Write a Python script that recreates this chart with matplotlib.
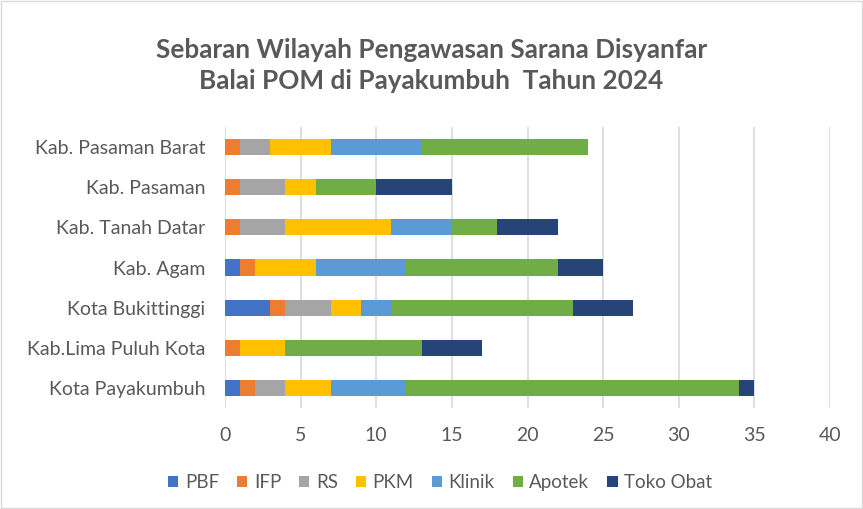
import matplotlib
matplotlib.use("Agg")
import matplotlib.pyplot as plt
from matplotlib.patches import Rectangle
import numpy as np

plt.rcParams['font.family'] = ['Lato', 'DejaVu Sans']

categories = ["Kota Payakumbuh", "Kab.Lima Puluh Kota", "Kota Bukittinggi", "Kab. Agam",
              "Kab. Tanah Datar", "Kab. Pasaman", "Kab. Pasaman Barat"]
series_names = ["PBF", "IFP", "RS", "PKM", "Klinik", "Apotek", "Toko Obat"]
PBF = [1, 0, 3, 1, 0, 0, 0]
IFP = [1, 1, 1, 1, 1, 1, 1]
RS = [2, 0, 3, 0, 3, 3, 2]
PKM = [3, 3, 2, 4, 7, 2, 4]
Klinik = [5, 0, 2, 6, 4, 0, 6]
Apotek = [22, 9, 12, 10, 3, 4, 11]
TokoObat = [1, 4, 4, 3, 4, 5, 0]
colors = ["#4472C4", "#ED7D31", "#A5A5A5", "#FFC000", "#5B9BD5", "#70AD47", "#264478"]
xticks = [0, 5, 10, 15, 20, 25, 30, 35, 40]

data = [PBF, IFP, RS, PKM, Klinik, Apotek, TokoObat]

fig = plt.figure(figsize=(8.63, 5.09), dpi=100)
ax = fig.add_axes([0.2607, 0.1984, 0.7011, 0.5521])

y = np.arange(len(categories))
left = np.zeros(len(categories))
for name, vals, c in zip(series_names, data, colors):
    ax.barh(y, vals, left=left, height=0.4, color=c, label=name, zorder=3)
    left += np.array(vals)

ax.set_xlim(0, 40)
ax.set_ylim(-0.5, len(categories) - 0.5)
ax.set_xticks(xticks)
ax.set_yticks(y)
ax.set_yticklabels(categories)
ax.tick_params(axis='both', length=0, labelsize=14, colors="#595959")
ax.tick_params(axis='y', pad=14)
ax.tick_params(axis='x', pad=14)
ax.grid(axis='x', color="#D9D9D9", linewidth=1.2, zorder=0)
for s in ax.spines.values():
    s.set_visible(False)

fig.text(0.5, 0.902, "Sebaran Wilayah Pengawasan Sarana Disyanfar", ha='center', va='center',
         fontsize=18.8, fontweight='bold', color="#595959")
fig.text(0.5, 0.840, "Balai POM di Payakumbuh  Tahun 2024", ha='center', va='center',
         fontsize=18.8, fontweight='bold', color="#595959")

leg = fig.legend(loc='center', bbox_to_anchor=(0.51, 0.052), ncol=7, frameon=False,
                 fontsize=13.5, handlelength=0.55, handleheight=0.55, handletextpad=0.35,
                 columnspacing=0.95)
for t in leg.get_texts():
    t.set_color("#595959")

fig.patches.append(Rectangle((0.001, 0.001), 0.998, 0.998, transform=fig.transFigure,
                             fill=False, edgecolor="#D9D9D9", linewidth=1))

fig.savefig("out.png", dpi=100)
